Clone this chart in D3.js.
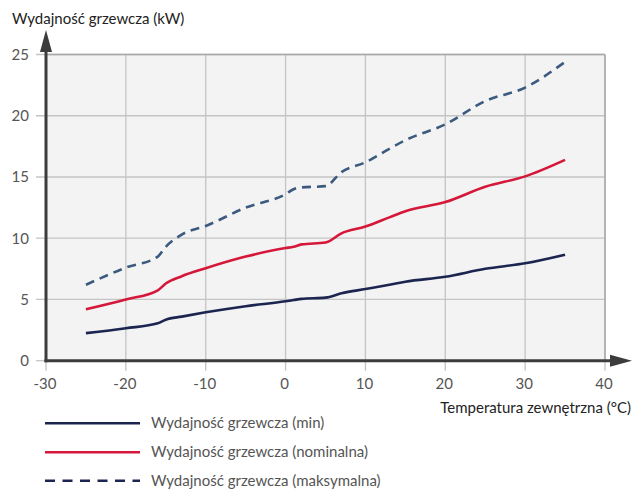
<!DOCTYPE html>
<html><head><meta charset="utf-8">
<script src="https://cdn.jsdelivr.net/npm/d3@7/dist/d3.min.js"></script>
<style>
body{margin:0;background:#fff;}
text{font-family:Lato,"Open Sans",sans-serif;}
</style></head>
<body><svg id="c" width="633" height="490"></svg>
<script>
const temps = [-25,-20,-16,-15,-13,-10,-5,0,1,2,5,7,10,13,15,20,25,30,35];
const minVals = [2.25,2.65,3.05,3.35,3.6,3.95,4.45,4.85,4.95,5.05,5.15,5.5,5.85,6.2,6.45,6.85,7.5,7.95,8.65];
const nomVals = [4.2,5.0,5.75,6.3,6.9,7.55,8.5,9.2,9.3,9.5,9.65,10.4,10.95,11.7,12.2,12.95,14.2,15.05,16.4];
const maxVals = [6.2,7.6,8.5,9.3,10.3,11.0,12.5,13.6,14.0,14.15,14.25,15.4,16.2,17.3,18.0,19.3,21.2,22.3,24.4];
const xTicks = [-30,-20,-10,0,10,20,30,40];
const yTicks = [0,5,10,15,20,25];
const seriesNames = ["Wydajność grzewcza (min)","Wydajność grzewcza (nominalna)","Wydajność grzewcza (maksymalna)"];
const yTitle = "Wydajność grzewcza (kW)";
const xTitle = "Temperatura zewnętrzna (°C)";

const svg = d3.select("#c");
const x = d3.scaleLinear().domain([-30,40]).range([46,605]);
const y = d3.scaleLinear().domain([0,25]).range([360.7,54.5]);

// plot background
svg.append("rect").attr("x",x(-30)).attr("y",y(25)).attr("width",x(40)-x(-30)).attr("height",y(0)-y(25)).attr("fill","#f3f3f3");

// grid
const g = svg.append("g");
g.selectAll("line.vx").data(xTicks.slice(1)).join("line")
 .attr("x1",d=>x(d)).attr("x2",d=>x(d)).attr("y1",y(25)).attr("y2",y(0)+10)
 .attr("stroke","#c4c4c4").attr("stroke-width",1.3);
g.selectAll("line.hy").data(yTicks.slice(1)).join("line")
 .attr("x1",x(-30)-10).attr("x2",x(40)).attr("y1",d=>y(d)).attr("y2",d=>y(d))
 .attr("stroke","#c4c4c4").attr("stroke-width",1.3);
// tick at 0 left and -30 bottom
g.append("line").attr("x1",x(-30)-10).attr("x2",x(-30)).attr("y1",y(0)).attr("y2",y(0)).attr("stroke","#c4c4c4").attr("stroke-width",1.3);
g.append("line").attr("x1",x(-30)).attr("x2",x(-30)).attr("y1",y(0)).attr("y2",y(0)+10).attr("stroke","#c4c4c4").attr("stroke-width",1.3);
// border top/right darker
g.append("line").attr("x1",x(-30)).attr("x2",x(40)).attr("y1",y(25)).attr("y2",y(25)).attr("stroke","#a9a9a9").attr("stroke-width",1.5);
g.append("line").attr("x1",x(40)).attr("x2",x(40)).attr("y1",y(25)).attr("y2",y(0)).attr("stroke","#a9a9a9").attr("stroke-width",1.5);

// tick labels
svg.selectAll("text.xt").data(xTicks).join("text")
 .attr("x",d=>x(d)-1).attr("y",y(0)+28).attr("text-anchor","middle")
 .attr("font-size",15).attr("fill","#555").text(d=>d);
svg.selectAll("text.yt").data(yTicks).join("text")
 .attr("x",x(-30)-17).attr("y",d=>y(d)+5.5).attr("text-anchor","end")
 .attr("font-size",15).attr("fill","#555").text(d=>d);

// axes with arrows
const axC = "#3c3c3c";
svg.append("line").attr("x1",x(-30)).attr("x2",x(-30)).attr("y1",y(0)+1.5).attr("y2",44).attr("stroke",axC).attr("stroke-width",3);
svg.append("path").attr("d",`M${x(-30)},30 L${x(-30)-6},52 L${x(-30)+6},52 Z`).attr("fill",axC);
svg.append("line").attr("x1",x(-30)-1.5).attr("x2",618).attr("y1",y(0)).attr("y2",y(0)).attr("stroke",axC).attr("stroke-width",3);
svg.append("path").attr("d",`M632,${y(0)} L610,${y(0)-6} L610,${y(0)+6} Z`).attr("fill",axC);

// titles
svg.append("text").attr("x",12).attr("y",24).attr("font-size",15).attr("fill","#222").text(yTitle);
svg.append("text").attr("x",631).attr("y",413).attr("text-anchor","end").attr("font-size",15).attr("fill","#222").text(xTitle);

// lines
const colors = ["#1b2550","#d5173a","#3b5a7e"];
const dashes = [null,null,"9,6"];
const all = [minVals,nomVals,maxVals];
const line = d3.line().x(d=>x(d[0])).y(d=>y(d[1])).curve(d3.curveMonotoneX);
all.forEach((vals,i)=>{
  svg.append("path").datum(temps.map((t,j)=>[t,vals[j]]))
   .attr("d",line).attr("fill","none").attr("stroke",colors[i]).attr("stroke-width",2.6)
   .attr("stroke-dasharray",dashes[i]).attr("stroke-linecap","butt");
});

// legend
const ly = [423.3,452.3,480.7];
seriesNames.forEach((n,i)=>{
  svg.append("line").attr("x1",45).attr("x2",140).attr("y1",ly[i]).attr("y2",ly[i])
   .attr("stroke",colors[i===2?0:i]).attr("stroke-width",2.6).attr("stroke-dasharray",i===2?"10,7.5":null);
  svg.append("text").attr("x",151).attr("y",ly[i]+5).attr("font-size",15).attr("fill","#555").text(n);
});
</script></body></html>
